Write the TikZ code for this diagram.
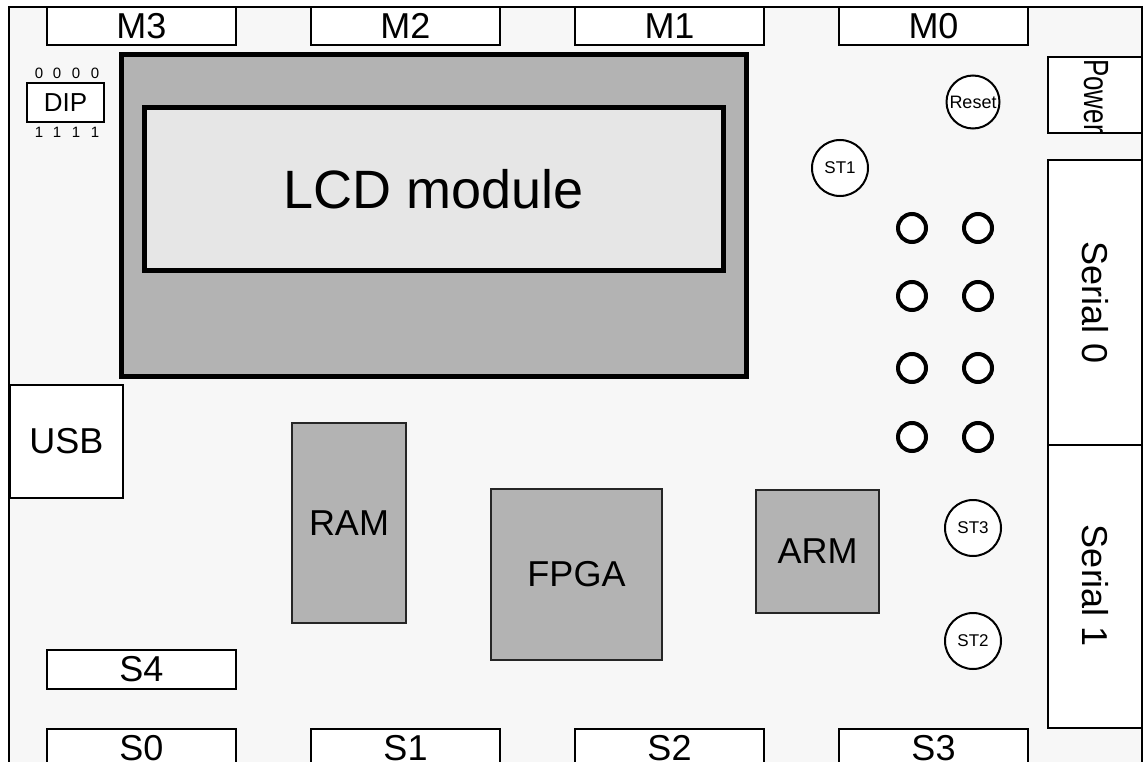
\documentclass[tikz,border=0pt]{standalone}
\usepackage{fontspec}
\setmainfont{Liberation Sans}
\definecolor{boardbg}{HTML}{F7F7F7}
\definecolor{chipgray}{HTML}{B3B3B3}
\definecolor{lcdlight}{HTML}{E6E6E6}
\newcommand{\fs}[1]{\fontsize{#1}{#1}\selectfont}
\begin{document}
\begin{tikzpicture}[x=1pt,y=-1pt,
  conn/.style={draw=black, line width=2pt, fill=white, inner sep=0pt, font=\fs{36}},
  mbox/.style={conn, minimum width=189pt, minimum height=38pt},
  chip/.style={draw=black!85, line width=1.2pt, fill=chipgray, inner sep=0pt, font=\fs{36}},
  btn/.style={circle, draw=black, line width=2pt, fill=white, inner sep=0pt, minimum size=56pt, font=\fs{17}},
  led/.style={circle, draw=black, line width=4pt, fill=white, inner sep=0pt, minimum size=28pt},
  dipnum/.style={inner sep=0pt, font=\fs{15}},
  side/.style={conn, minimum width=94pt}
]
\path[use as bounding box] (0,0) rectangle (1143,762);
\clip (0,0) rectangle (1143,762);
% board
\draw[line width=2.5pt, fill=boardbg] (9,7) rectangle (1142,800);
% top connectors
\node[mbox] (m3) at (141.5,26) {M3};
\node[mbox] (m2) at (405.5,26) {M2};
\node[mbox] (m1) at (669.5,26) {M1};
\node[mbox] (m0) at (933.5,26) {M0};
% bottom connectors
\node[mbox, minimum height=39pt] (s4) at (141.5,669.5) {S4};
\node[mbox] (s0) at (141.5,748) {S0};
\node[mbox] (s1) at (405.5,748) {S1};
\node[mbox] (s2) at (669.5,748) {S2};
\node[mbox] (s3) at (933.5,748) {S3};
% LCD
\node[draw=black, line width=5pt, fill=chipgray, minimum width=625pt, minimum height=322pt, inner sep=0pt] (lcd) at (434,215.5) {};
\node[draw=black, line width=5pt, fill=lcdlight, minimum width=579pt, minimum height=162pt, inner sep=0pt, font=\fs{54}] (lcdin) at (433.5,189) {LCD module};
% DIP
\node[conn, minimum width=77pt, minimum height=39pt, font=\fs{26}] (dip) at (65.5,102.5) {DIP};
\foreach \x [count=\i] in {39,57,76,95}{
  \node[dipnum] (dz\i) at (\x,73) {0};
  \node[dipnum] (do\i) at (\x,132) {1};
}
% USB
\node[conn, minimum width=113pt, minimum height=113pt] (usb) at (66.5,441.5) {USB};
% chips
\node[chip, minimum width=114pt, minimum height=200pt] (ram) at (349,523) {RAM};
\node[chip, minimum width=171pt, minimum height=171pt] (fpga) at (576.5,574.5) {FPGA};
\node[chip, minimum width=123pt, minimum height=123pt] (arm) at (817.5,551.5) {ARM};
% buttons
\node[btn, minimum size=53pt, font=\fs{18}] (reset) at (973,102) {Reset};
\node[btn] (st1) at (840,168) {ST1};
\node[btn] (st3) at (973,528) {ST3};
\node[btn] (st2) at (973,641) {ST2};
% LEDs
\foreach \y [count=\r] in {228,296,368,437}{
  \node[led] (ledl\r) at (912,\y) {};
  \node[led] (ledr\r) at (978,\y) {};
}
% right side connectors
\node[side, minimum height=76pt] (power) at (1095,95) {};
\node[rotate=-90, inner sep=0pt, font=\fs{35}] (powertxt) at (1096,96) {\scalebox{0.74}[1]{Power}};
\node[side, minimum height=284pt] (ser0) at (1095,302.5) {};
\node[rotate=-90, inner sep=0pt, font=\fs{36}] (ser0txt) at (ser0) {Serial 0};
\node[side, minimum height=283pt] (ser1) at (1095,586) {};
\node[rotate=-90, inner sep=0pt, font=\fs{36}] (ser1txt) at (ser1) {Serial 1};
% board right edge over side connectors
\draw[line width=2.5pt] (1142,7) -- (1142,800);
\end{tikzpicture}
\end{document}
